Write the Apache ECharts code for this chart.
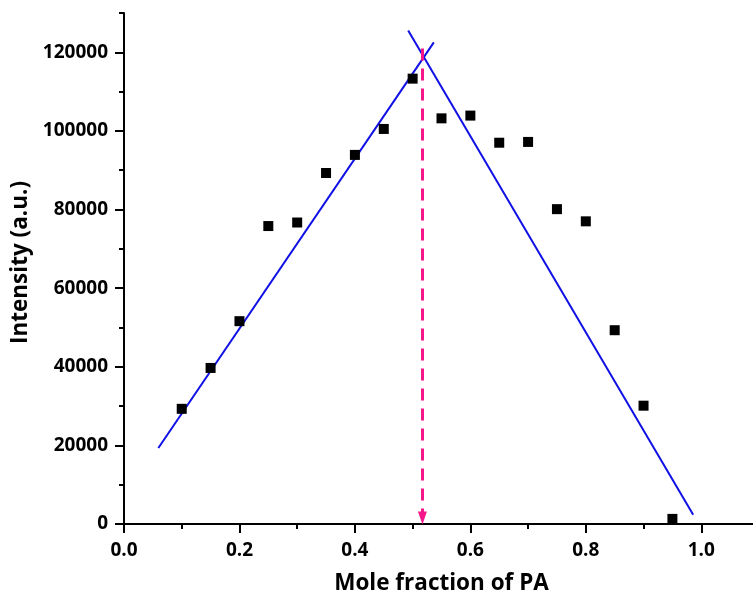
<!DOCTYPE html>
<html>
<head>
<meta charset="utf-8">
<script src="https://cdn.jsdelivr.net/npm/echarts@6/dist/echarts.min.js"></script>
<style>
  html, body { margin: 0; padding: 0; background: #fff; }
  #chart { width: 753px; height: 598px; }
</style>
</head>
<body>
<div id="chart"></div>
<script>
// Job plot: emission intensity versus mole fraction of PA
const moleFraction = [0.10, 0.15, 0.20, 0.25, 0.30, 0.35, 0.40, 0.45, 0.50,
                      0.55, 0.60, 0.65, 0.70, 0.75, 0.80, 0.85, 0.90, 0.95];
const intensity = [29300, 39700, 51600, 75800, 76700, 89300, 93900, 100500, 113300,
                   103200, 103900, 97000, 97200, 80100, 77000, 49300, 30100, 1300];

// Linear fits for the rising and falling branches (end points)
const riseFitX = [0.0595, 0.5367];
const riseFitY = [19340, 122540];
const fallFitX = [0.4923, 0.986];
const fallFitY = [125520, 2370];

// Stoichiometry marker (intersection of the two fits)
const markerX = 0.517;
const markerY = [121000, 1500];

// Tick positions
const xMajorTicks = [0, 0.2, 0.4, 0.6, 0.8, 1.0];
const xMinorTicks = [0.1, 0.3, 0.5, 0.7, 0.9, 1.1];
const yMajorTicks = [0, 20000, 40000, 60000, 80000, 100000, 120000];
const yMinorTicks = [10000, 30000, 50000, 70000, 90000, 110000, 130000];

const FONT = '"Open Sans"';
const pairs = (xs, ys) => xs.map((x, i) => [x, ys[i]]);

const chart = echarts.init(document.getElementById('chart'), null, { renderer: 'canvas' });

const axisLine = { show: true, onZero: false, lineStyle: { color: '#000', width: 2 } };

chart.setOption({
  animation: false,
  backgroundColor: '#fff',
  grid: { left: 124, top: 13, bottom: 74, right: -6, containLabel: false, outerBoundsMode: 'none' },
  xAxis: [{
    type: 'value', min: 0, max: 1.1,
    position: 'bottom',
    name: 'Mole fraction of PA', nameLocation: 'middle', nameGap: 48,
    nameTextStyle: { fontFamily: FONT, fontWeight: 'bold', fontSize: 22.5, color: '#000' },
    axisLine: axisLine,
    axisTick: { show: true, inside: false, length: 9, customValues: xMajorTicks,
                lineStyle: { color: '#000', width: 2 } },
    axisLabel: { show: true, customValues: xMajorTicks, margin: 17,
                 formatter: v => v.toFixed(1),
                 fontFamily: FONT, fontWeight: 'bold', fontSize: 19, color: '#000' },
    splitLine: { show: false }
  }, {
    type: 'value', min: 0, max: 1.1,
    position: 'bottom',
    axisLine: { show: false },
    axisTick: { show: true, inside: false, length: 5, customValues: xMinorTicks,
                lineStyle: { color: '#000', width: 2 } },
    axisLabel: { show: false },
    splitLine: { show: false }
  }],
  yAxis: [{
    type: 'value', min: 0, max: 130000,
    position: 'left',
    name: 'Intensity (a.u.)', nameLocation: 'middle', nameGap: 91, nameRotate: 90,
    nameTextStyle: { fontFamily: FONT, fontWeight: 'bold', fontSize: 22.5, color: '#000',
                     padding: [0, 0, 0, 12] },
    axisLine: axisLine,
    axisTick: { show: true, inside: false, length: 9, customValues: yMajorTicks,
                lineStyle: { color: '#000', width: 2 } },
    axisLabel: { show: true, customValues: yMajorTicks, margin: 16,
                 formatter: v => String(v),
                 fontFamily: FONT, fontWeight: 'bold', fontSize: 19, color: '#000' },
    splitLine: { show: false }
  }, {
    type: 'value', min: 0, max: 130000,
    position: 'left',
    axisLine: { show: false },
    axisTick: { show: true, inside: false, length: 5, customValues: yMinorTicks,
                lineStyle: { color: '#000', width: 2 } },
    axisLabel: { show: false },
    splitLine: { show: false }
  }],
  series: [
    {
      name: 'rise fit', type: 'line', xAxisIndex: 0, yAxisIndex: 0,
      data: pairs(riseFitX, riseFitY), symbol: 'none',
      lineStyle: { color: '#1010e6', width: 2 }, z: 2
    },
    {
      name: 'fall fit', type: 'line', xAxisIndex: 0, yAxisIndex: 0,
      data: pairs(fallFitX, fallFitY), symbol: 'none',
      lineStyle: { color: '#1010e6', width: 2 }, z: 2
    },
    {
      name: 'marker', type: 'line', xAxisIndex: 0, yAxisIndex: 0,
      data: [], symbol: 'none',
      markLine: {
        silent: true, animation: false,
        symbol: ['none', 'triangle'], symbolSize: [9, 13],
        label: { show: false },
        lineStyle: { color: '#f5178a', width: 3, type: [12, 8] },
        data: [[{ coord: [markerX, markerY[0]] }, { coord: [markerX, markerY[1]] }]]
      },
      z: 3
    },
    {
      name: 'intensity', type: 'scatter', xAxisIndex: 0, yAxisIndex: 0,
      data: pairs(moleFraction, intensity),
      symbol: 'rect', symbolSize: 10,
      itemStyle: { color: '#000', opacity: 1 }, z: 4
    }
  ]
});
</script>
</body>
</html>
